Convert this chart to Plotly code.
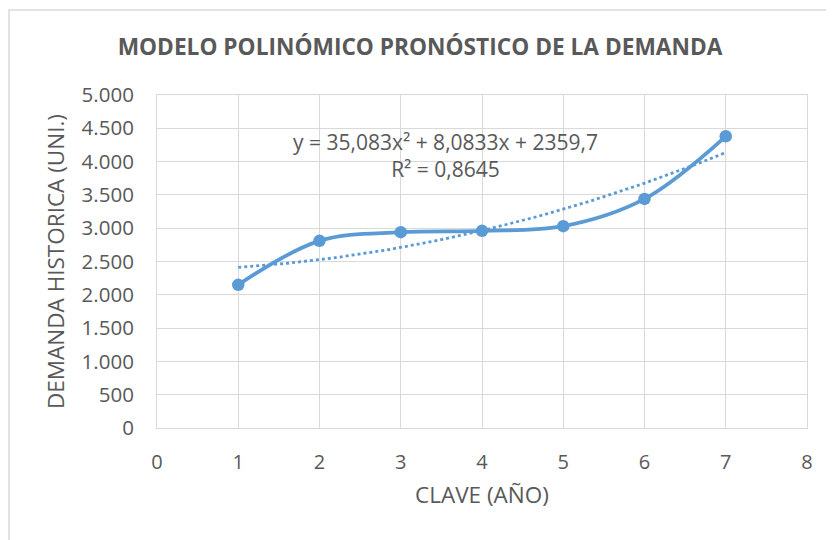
import numpy as np
import plotly.graph_objects as go

clave = [1, 2, 3, 4, 5, 6, 7]
demanda = [2150, 2810, 2940, 2960, 3030, 3440, 4380]

eq_texto = "y = 35,083x² + 8,0833x + 2359,7<br>R² = 0,8645"

azul = '#5B9BD5'
gris = '#595959'
grid = '#D9D9D9'
fuente = 'Open Sans'

# tendencia polinómica de orden 2 (como la de Excel)
coef = np.polyfit(clave, demanda, 2)
x_tend = np.linspace(min(clave), max(clave), 100)
y_tend = np.polyval(coef, x_tend)

fig = go.Figure()
fig.add_trace(go.Scatter(
    x=clave, y=demanda,
    mode='lines+markers',
    line=dict(color=azul, width=3.8, shape='spline', smoothing=1),
    marker=dict(color=azul, size=12.5),
    showlegend=False
))
fig.add_trace(go.Scatter(
    x=x_tend, y=y_tend,
    mode='lines',
    line=dict(color=azul, width=2.8, dash='dot'),
    showlegend=False
))

# la página tiene 8px de margen en el body
off = 8
W, H = 834 - off, 540 - off
ml, mr, mt, mb = 157 - off, 27, 95 - off, 112
pw, ph = W - ml - mr, H - mt - mb

def px(x):
    return (x - off - ml) / pw

def py(y):
    return (H - mb - (y - off)) / ph

fig.update_layout(
    width=W, height=H,
    margin=dict(l=ml, r=mr, t=mt, b=mb),
    paper_bgcolor='white',
    plot_bgcolor='white',
    separators=',.',
    font=dict(family=fuente, color=gris),
    title=dict(
        text='<b>MODELO POLINÓMICO PRONÓSTICO DE LA DEMANDA</b>',
        x=px(420), xanchor='center', xref='paper', y=1 - (47 - off) / H, yanchor='middle',
        font=dict(size=22.7, color=gris, family=fuente)
    ),
    xaxis=dict(
        range=[0, 8], dtick=1, showgrid=True, gridcolor=grid, gridwidth=1,
        zeroline=False, showline=True, linecolor=grid, mirror=True,
        tickfont=dict(size=20, color=gris), ticks='', ticklabelstandoff=16,
        title=dict(text='CLAVE (AÑO)', font=dict(size=22.5, color=gris), standoff=13),
        fixedrange=True
    ),
    yaxis=dict(
        range=[0, 5000], dtick=500, tickformat=',', showgrid=True, gridcolor=grid, gridwidth=1,
        zeroline=False, showline=True, linecolor=grid, mirror=True,
        tickfont=dict(size=20.5, color=gris), ticks='', ticklabelstandoff=18,
        title=dict(text='DEMANDA HISTORICA (UNI.)', font=dict(size=22.5, color=gris), standoff=10),
        fixedrange=True
    ),
    annotations=[dict(
        text=eq_texto, xref='paper', yref='paper',
        x=px(445), y=py(155), xanchor='center', yanchor='middle',
        showarrow=False, align='center',
        font=dict(size=21, color=gris, family=fuente)
    )],
    shapes=[dict(
        type='rect', xref='paper', yref='paper',
        x0=px(9), x1=px(900), y0=py(10), y1=py(600),
        line=dict(color=grid, width=1.5), layer='below'
    )]
)

fig.write_html("out.html")
